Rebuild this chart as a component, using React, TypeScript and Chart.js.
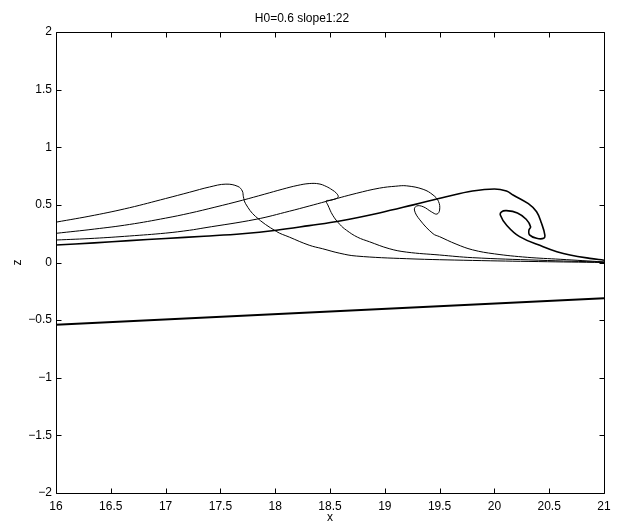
import React, { useEffect, useRef } from 'react';
import { Chart, registerables } from 'chart.js';

Chart.register(...registerables);

const chartTitle = 'H0=0.6 slope1:22';
const xLabel = 'x';
const yLabel = 'z';
const xMin = 16;
const xMax = 21;
const yMin = -2;
const yMax = 2;
const xStep = 0.5;
const yStep = 0.5;

// Wave profile 1 (crest near x = 17.5)
const p1X = [16, 16.35, 16.67, 17.0, 17.22, 17.4, 17.55, 17.66, 17.7, 17.71, 17.73, 17.82, 18.01, 18.13, 18.31, 18.43, 18.59, 18.74, 19.2, 19.8, 20.4, 21];
const p1Z = [0.35, 0.41, 0.475, 0.555, 0.61, 0.655, 0.68, 0.66, 0.62, 0.57, 0.51, 0.4, 0.27, 0.22, 0.15, 0.12, 0.08, 0.056, 0.033, 0.018, 0.008, 0.0];

// Wave profile 2 (crest near x = 18.3)
const p2X = [16, 16.35, 16.67, 17.0, 17.22, 17.45, 17.7, 17.9, 18.07, 18.2, 18.31, 18.4, 18.465, 18.52, 18.56, 18.575, 18.55, 18.5, 18.465, 18.48, 18.525, 18.59, 18.65, 18.75, 18.86, 19.04, 19.2, 19.5, 19.8, 20.4, 21];
const p2Z = [0.253, 0.29, 0.33, 0.385, 0.428, 0.48, 0.54, 0.592, 0.637, 0.668, 0.685, 0.682, 0.66, 0.63, 0.6, 0.57, 0.552, 0.54, 0.534, 0.5, 0.41, 0.33, 0.28, 0.22, 0.18, 0.12, 0.09, 0.065, 0.042, 0.02, 0.003];

// Wave profile 3 (crest near x = 19.1)
const p3X = [16, 16.35, 16.67, 17.0, 17.22, 17.35, 17.825, 18.13, 18.31, 18.465, 18.74, 18.95, 19.1, 19.2, 19.35, 19.44, 19.49, 19.5, 19.475, 19.425, 19.35, 19.29, 19.27, 19.32, 19.44, 19.5, 19.65, 19.8, 20.0, 20.3, 20.6, 21];
const p3Z = [0.195, 0.21, 0.23, 0.255, 0.28, 0.3, 0.375, 0.445, 0.49, 0.53, 0.6, 0.645, 0.662, 0.665, 0.635, 0.586, 0.53, 0.455, 0.42, 0.44, 0.484, 0.49, 0.455, 0.37, 0.25, 0.224, 0.16, 0.11, 0.075, 0.045, 0.028, 0.005];

// Wave profile 4 (crest near x = 20.0, plunging jet)
const p4X = [16, 16.35, 16.67, 17.0, 17.35, 17.7, 18.01, 18.31, 18.59, 18.95, 19.26, 19.56, 19.8, 20.0, 20.11, 20.17, 20.31, 20.385, 20.43, 20.46, 20.45, 20.385, 20.32, 20.315, 20.33, 20.29, 20.21, 20.11, 20.065, 20.055, 20.11, 20.23, 20.445, 20.57, 20.69, 20.87, 21];
const p4Z = [0.152, 0.17, 0.19, 0.208, 0.228, 0.25, 0.28, 0.32, 0.36, 0.43, 0.5, 0.57, 0.62, 0.638, 0.62, 0.586, 0.51, 0.44, 0.34, 0.24, 0.21, 0.21, 0.24, 0.28, 0.31, 0.375, 0.43, 0.45, 0.44, 0.41, 0.325, 0.224, 0.137, 0.094, 0.065, 0.036, 0.02];

// Sloping bed
const bedX = [16, 21];
const bedZ = [-0.54, -0.31];

const FONT = '"Liberation Sans", Arial, Helvetica, sans-serif';

const toPoints = (xs: number[], zs: number[]) => xs.map((x, i) => ({ x, y: zs[i] }));

const fmt = (v: number) => {
  const s = String(Math.round(v * 100) / 100);
  return s.replace('-', '\u2212');
};

const matlabAxes = {
  id: 'matlabAxes',
  afterDraw(chart: any) {
    const { ctx, chartArea } = chart;
    const { left, right, top, bottom } = chartArea;
    const xs = chart.scales.x;
    const ys = chart.scales.y;
    const L = 5;
    ctx.save();
    ctx.strokeStyle = '#000';
    ctx.lineWidth = 1;
    ctx.beginPath();
    const l = Math.round(left) + 0.5;
    const r = Math.round(right) + 0.5;
    const t = Math.round(top) + 0.5;
    const b = Math.round(bottom) + 0.5;
    ctx.moveTo(l, t);
    ctx.lineTo(r, t);
    ctx.lineTo(r, b);
    ctx.lineTo(l, b);
    ctx.closePath();
    xs.ticks.forEach((tk: any) => {
      const px = Math.round(xs.getPixelForValue(tk.value)) + 0.5;
      ctx.moveTo(px, b);
      ctx.lineTo(px, b - L);
      ctx.moveTo(px, t);
      ctx.lineTo(px, t + L);
    });
    ys.ticks.forEach((tk: any) => {
      const py = Math.round(ys.getPixelForValue(tk.value)) + 0.5;
      ctx.moveTo(l, py);
      ctx.lineTo(l + L, py);
      ctx.moveTo(r, py);
      ctx.lineTo(r - L, py);
    });
    ctx.stroke();
    ctx.restore();
  },
};

export default function App() {
  const ref = useRef<HTMLCanvasElement | null>(null);

  useEffect(() => {
    document.body.style.margin = '0';
    const canvas = ref.current;
    if (!canvas) return;
    const line = (xs: number[], zs: number[], w: number) => ({
      data: toPoints(xs, zs),
      borderColor: '#000',
      backgroundColor: '#000',
      borderWidth: w,
      pointRadius: 0,
      pointHoverRadius: 0,
      showLine: true,
      fill: false,
      tension: 0.4,
    });
    const chart = new Chart(canvas, {
      type: 'scatter',
      data: {
        datasets: [
          line(p1X, p1Z, 1),
          line(p2X, p2Z, 1),
          line(p3X, p3Z, 1),
          line(p4X, p4Z, 1.6),
          { ...line(bedX, bedZ, 2), tension: 0 },
        ],
      },
      options: {
        responsive: false,
        animation: false,
        events: [],
        layout: { padding: { left: 0, right: 33, top: 0, bottom: 0 } },
        plugins: {
          legend: { display: false },
          tooltip: { enabled: false },
          title: {
            display: true,
            text: chartTitle,
            color: '#000',
            font: { family: FONT, size: 12, weight: 'normal' },
            padding: { top: 11.5, bottom: 6.1 },
          },
        },
        scales: {
          x: {
            type: 'linear',
            min: xMin,
            max: xMax,
            afterFit: (s: any) => { s.height = 33; },
            border: { display: false },
            grid: { display: false, drawTicks: false },
            ticks: {
              stepSize: xStep,
              autoSkip: false,
              maxRotation: 0,
              padding: 6,
              color: '#000',
              font: { family: FONT, size: 12 },
              callback: (v: any) => fmt(Number(v)),
            },
            title: {
              display: true,
              text: xLabel,
              color: '#000',
              font: { family: FONT, size: 12 },
              padding: { top: 0, bottom: 1 },
            },
          },
          y: {
            type: 'linear',
            min: yMin,
            max: yMax,
            afterFit: (s: any) => { s.width = 56; },
            border: { display: false },
            grid: { display: false, drawTicks: false },
            ticks: {
              stepSize: yStep,
              autoSkip: false,
              padding: 4,
              color: '#000',
              font: { family: FONT, size: 12 },
              callback: (v: any) => fmt(Number(v)),
            },
            title: {
              display: true,
              text: yLabel,
              color: '#000',
              font: { family: FONT, size: 12 },
              padding: { top: 10, bottom: 0 },
            },
          },
        },
      },
      plugins: [matlabAxes],
    } as any);
    return () => chart.destroy();
  }, []);

  return (
    <div style={{ position: 'fixed', left: 0, top: 0, background: '#fff' }}>
      <canvas ref={ref} width={637} height={526} style={{ display: 'block', width: 637, height: 526 }} />
    </div>
  );
}
